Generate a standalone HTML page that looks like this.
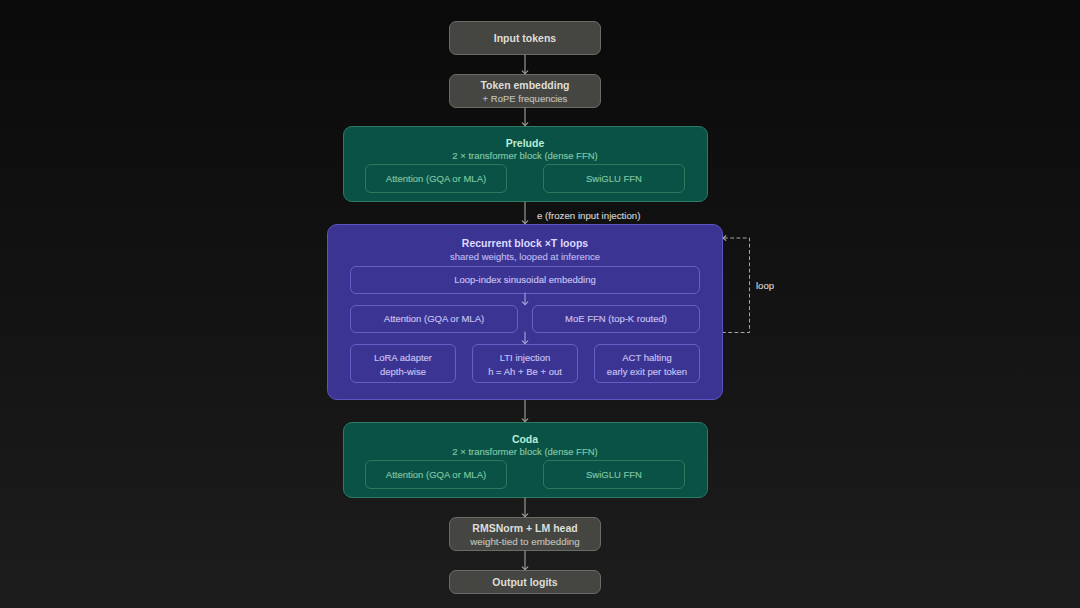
<!DOCTYPE html>
<html><head><meta charset="utf-8">
<style>
html,body{margin:0;padding:0;}
body{width:1080px;height:608px;overflow:hidden;position:relative;
background:linear-gradient(180deg,#0a0a0a 0%,#131313 50%,#1d1d1d 100%);
font-family:"Liberation Sans",sans-serif;}
.b{position:absolute;box-sizing:border-box;}
.t{position:absolute;text-align:center;white-space:nowrap;}
svg{position:absolute;left:0;top:0;}
</style></head><body>
<div class="b" style="left:449px;top:21px;width:152px;height:34px;background:#454541;border:1px solid #6b6b67;border-radius:7px;"></div>
<div class="t" style="left:375px;width:300px;top:33.21px;font-size:10.5px;line-height:10.5px;color:#deded8;font-weight:bold;">Input tokens</div>
<div class="b" style="left:449px;top:74px;width:152px;height:34px;background:#454541;border:1px solid #6b6b67;border-radius:7px;"></div>
<div class="t" style="left:375px;width:300px;top:80.11px;font-size:10.5px;line-height:10.5px;color:#deded8;font-weight:bold;">Token embedding</div>
<div class="t" style="left:375px;width:300px;top:94.16px;font-size:9.5px;line-height:9.5px;color:#c0c0ba;font-weight:normal;-webkit-text-stroke:0.15px #c0c0ba;">+ RoPE frequencies</div>
<div class="b" style="left:343px;top:126px;width:365px;height:76px;background:#095245;border:1px solid #2c7c62;border-radius:9px;"></div>
<div class="t" style="left:375px;width:300px;top:137.81px;font-size:10.5px;line-height:10.5px;color:#bcebd6;font-weight:bold;">Prelude</div>
<div class="t" style="left:375px;width:300px;top:150.96px;font-size:9.5px;line-height:9.5px;color:#80c8a8;font-weight:normal;-webkit-text-stroke:0.15px #80c8a8;">2 × transformer block (dense FFN)</div>
<div class="b" style="left:365px;top:164px;width:142px;height:29px;border:1px solid #2b7a5f;border-radius:6px;"></div>
<div class="b" style="left:543px;top:164px;width:142px;height:29px;border:1px solid #2b7a5f;border-radius:6px;"></div>
<div class="t" style="left:286px;width:300px;top:173.96px;font-size:9.5px;line-height:9.5px;color:#80c6a4;font-weight:normal;-webkit-text-stroke:0.15px #80c6a4;">Attention (GQA or MLA)</div>
<div class="t" style="left:464px;width:300px;top:173.96px;font-size:9.5px;line-height:9.5px;color:#80c6a4;font-weight:normal;-webkit-text-stroke:0.15px #80c6a4;">SwiGLU FFN</div>
<div class="b" style="left:343px;top:422px;width:365px;height:76px;background:#095245;border:1px solid #2c7c62;border-radius:9px;"></div>
<div class="t" style="left:375px;width:300px;top:433.81px;font-size:10.5px;line-height:10.5px;color:#bcebd6;font-weight:bold;">Coda</div>
<div class="t" style="left:375px;width:300px;top:446.96px;font-size:9.5px;line-height:9.5px;color:#80c8a8;font-weight:normal;-webkit-text-stroke:0.15px #80c8a8;">2 × transformer block (dense FFN)</div>
<div class="b" style="left:365px;top:460px;width:142px;height:29px;border:1px solid #2b7a5f;border-radius:6px;"></div>
<div class="b" style="left:543px;top:460px;width:142px;height:29px;border:1px solid #2b7a5f;border-radius:6px;"></div>
<div class="t" style="left:286px;width:300px;top:469.96px;font-size:9.5px;line-height:9.5px;color:#80c6a4;font-weight:normal;-webkit-text-stroke:0.15px #80c6a4;">Attention (GQA or MLA)</div>
<div class="t" style="left:464px;width:300px;top:469.96px;font-size:9.5px;line-height:9.5px;color:#80c6a4;font-weight:normal;-webkit-text-stroke:0.15px #80c6a4;">SwiGLU FFN</div>
<div class="t" style="left:537px;top:211.29px;font-size:9.7px;line-height:9.7px;color:#d2d2cc;font-weight:normal;text-align:left;-webkit-text-stroke:0.15px #d2d2cc;">e (frozen input injection)</div>
<div class="b" style="left:327px;top:224px;width:396px;height:176px;background:#3b3493;border:1px solid #5c55c0;border-radius:10px;"></div>
<div class="t" style="left:375px;width:300px;top:238.11px;font-size:10.5px;line-height:10.5px;color:#dedaff;font-weight:bold;">Recurrent block ×T loops</div>
<div class="t" style="left:375px;width:300px;top:251.86px;font-size:9.5px;line-height:9.5px;color:#bcb8ee;font-weight:normal;-webkit-text-stroke:0.15px #bcb8ee;">shared weights, looped at inference</div>
<div class="b" style="left:350px;top:266px;width:350px;height:28px;border:1px solid #6660c6;border-radius:6px;"></div>
<div class="t" style="left:375px;width:300px;top:274.66px;font-size:9.5px;line-height:9.5px;color:#c6c2f2;font-weight:normal;-webkit-text-stroke:0.15px #c6c2f2;">Loop-index sinusoidal embedding</div>
<div class="b" style="left:350px;top:305px;width:168px;height:28px;border:1px solid #6660c6;border-radius:6px;"></div>
<div class="b" style="left:532px;top:305px;width:168px;height:28px;border:1px solid #6660c6;border-radius:6px;"></div>
<div class="t" style="left:284px;width:300px;top:313.66px;font-size:9.5px;line-height:9.5px;color:#c6c2f2;font-weight:normal;-webkit-text-stroke:0.15px #c6c2f2;">Attention (GQA or MLA)</div>
<div class="t" style="left:466px;width:300px;top:313.66px;font-size:9.5px;line-height:9.5px;color:#c6c2f2;font-weight:normal;-webkit-text-stroke:0.15px #c6c2f2;">MoE FFN (top-K routed)</div>
<div class="b" style="left:350px;top:344px;width:106px;height:39px;border:1px solid #6660c6;border-radius:6px;"></div>
<div class="t" style="left:253px;width:300px;top:352.96px;font-size:9.5px;line-height:9.5px;color:#c6c2f2;font-weight:normal;-webkit-text-stroke:0.15px #c6c2f2;">LoRA adapter</div>
<div class="t" style="left:253px;width:300px;top:366.96px;font-size:9.5px;line-height:9.5px;color:#c6c2f2;font-weight:normal;-webkit-text-stroke:0.15px #c6c2f2;">depth-wise</div>
<div class="b" style="left:472px;top:344px;width:106px;height:39px;border:1px solid #6660c6;border-radius:6px;"></div>
<div class="t" style="left:375px;width:300px;top:352.96px;font-size:9.5px;line-height:9.5px;color:#c6c2f2;font-weight:normal;-webkit-text-stroke:0.15px #c6c2f2;">LTI injection</div>
<div class="t" style="left:375px;width:300px;top:366.96px;font-size:9.5px;line-height:9.5px;color:#c6c2f2;font-weight:normal;-webkit-text-stroke:0.15px #c6c2f2;">h = Ah + Be + out</div>
<div class="b" style="left:594px;top:344px;width:106px;height:39px;border:1px solid #6660c6;border-radius:6px;"></div>
<div class="t" style="left:497px;width:300px;top:352.96px;font-size:9.5px;line-height:9.5px;color:#c6c2f2;font-weight:normal;-webkit-text-stroke:0.15px #c6c2f2;">ACT halting</div>
<div class="t" style="left:497px;width:300px;top:366.96px;font-size:9.5px;line-height:9.5px;color:#c6c2f2;font-weight:normal;-webkit-text-stroke:0.15px #c6c2f2;">early exit per token</div>
<div class="t" style="left:756px;top:280.96px;font-size:9.5px;line-height:9.5px;color:#d4d4ce;font-weight:normal;text-align:left;-webkit-text-stroke:0.15px #d4d4ce;">loop</div>
<div class="b" style="left:449px;top:517px;width:152px;height:34px;background:#454541;border:1px solid #6b6b67;border-radius:7px;"></div>
<div class="t" style="left:375px;width:300px;top:523.31px;font-size:10.5px;line-height:10.5px;color:#deded8;font-weight:bold;">RMSNorm + LM head</div>
<div class="t" style="left:375px;width:300px;top:537.00px;font-size:9.8px;line-height:9.8px;color:#c0c0ba;font-weight:normal;-webkit-text-stroke:0.15px #c0c0ba;">weight-tied to embedding</div>
<div class="b" style="left:449px;top:570px;width:152px;height:24px;background:#454541;border:1px solid #6b6b67;border-radius:7px;"></div>
<div class="t" style="left:375px;width:300px;top:577.41px;font-size:10.5px;line-height:10.5px;color:#deded8;font-weight:bold;">Output logits</div>
<svg width="1080" height="608" viewBox="0 0 1080 608"><g fill="none" stroke-width="1.1" stroke-linecap="round" stroke-linejoin="round">
<path d="M525 55V73.5" stroke="#a3a39d"/><path d="M522.2 70.8L525 73.7L527.8 70.8" stroke="#a3a39d"/>
<path d="M525 108V125.5" stroke="#a3a39d"/><path d="M522.2 122.8L525 125.7L527.8 122.8" stroke="#a3a39d"/>
<path d="M525 202V223.5" stroke="#a3a39d"/><path d="M522.2 220.8L525 223.7L527.8 220.8" stroke="#a3a39d"/>
<path d="M525 400V421.5" stroke="#a3a39d"/><path d="M522.2 418.8L525 421.7L527.8 418.8" stroke="#a3a39d"/>
<path d="M525 498V516.5" stroke="#a3a39d"/><path d="M522.2 513.8L525 516.7L527.8 513.8" stroke="#a3a39d"/>
<path d="M525 551V569.5" stroke="#a3a39d"/><path d="M522.2 566.8L525 569.7L527.8 566.8" stroke="#a3a39d"/>
<path d="M525 293V304.5" stroke="#aaa6dc"/><path d="M522.2 301.8L525 304.7L527.8 301.8" stroke="#aaa6dc"/>
<path d="M525 332V343.5" stroke="#aaa6dc"/><path d="M522.2 340.8L525 343.7L527.8 340.8" stroke="#aaa6dc"/>
</g>
<path d="M724 238H749.5V332.5H723" fill="none" stroke="#a8a8a2" stroke-width="1" stroke-dasharray="3.75 2.5"/>
<path d="M725.8 235.6L723.2 238L725.8 240.4" fill="none" stroke="#a8a8a2" stroke-width="1.1" stroke-linecap="round" stroke-linejoin="round"/>
</svg>
</body></html>
